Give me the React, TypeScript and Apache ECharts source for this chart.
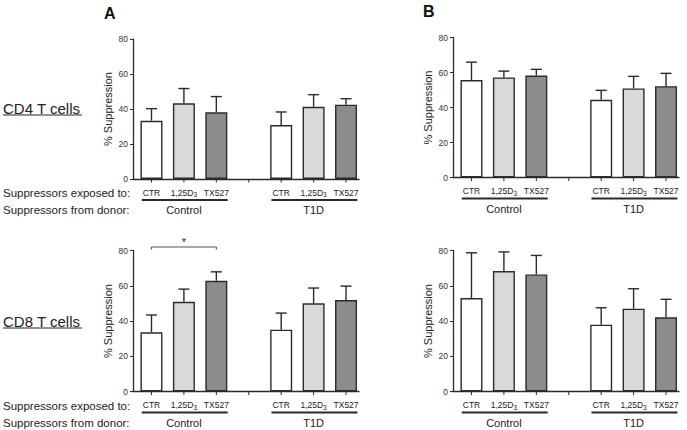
import React, { useEffect, useRef } from "react";
import * as echarts from "echarts";

// ---- data ----
const treatments = ["CTR", "1,25D3", "TX527"];
const donors = ["Control", "T1D"];
const panelLetters = ["A", "B"];
const cellTypes = ["CD4 T cells", "CD8 T cells"];
const rowLabels = ["Suppressors exposed to:", "Suppressors from donor:"];
const yAxisTitle = "% Suppression";
const yMin = 0;
const yMax = 80;
const yStep = 20;

// order: Control CTR, 1,25D3, TX527, T1D CTR, 1,25D3, TX527
const cd4A_mean = [33.3, 43.3, 38.1, 30.8, 41.3, 42.5];
const cd4A_sem = [6.9, 8.4, 9.0, 7.5, 6.9, 3.4];
const cd8A_mean = [33.6, 50.9, 62.8, 35.1, 50.0, 51.9];
const cd8A_sem = [9.8, 7.2, 5.1, 9.4, 8.7, 7.9];
const cd4B_mean = [55.7, 57.2, 58.3, 44.4, 50.9, 52.2];
const cd4B_sem = [10.2, 3.6, 3.5, 5.4, 6.9, 7.3];
const cd8B_mean = [53.0, 68.3, 66.4, 37.9, 47.0, 42.1];
const cd8B_sem = [25.7, 10.9, 10.8, 9.6, 11.3, 10.2];

// significance bracket in panel A / CD8: Control CTR vs Control TX527
const sigFrom = 0;
const sigTo = 2;
const sigLevel = 82;
const sigText = "*";

// ---- styling ----
const FONT = "'Liberation Sans', Arial, Helvetica, sans-serif";
const fillColors = ["#ffffff", "#d9d9d9", "#8c8c8c"];
const LINE = "#2b2b2b";
const TEXT = "#222222";

const pos = (k: number) => Math.floor(k / 3) * 4 + (k % 3);

const panels = [
  { mean: cd4A_mean, sem: cd4A_sem, grid: { left: 133, top: 39, width: 226, height: 140 }, sig: false },
  { mean: cd4B_mean, sem: cd4B_sem, grid: { left: 453, top: 37.5, width: 226, height: 140 }, sig: false },
  { mean: cd8A_mean, sem: cd8A_sem, grid: { left: 133, top: 250.5, width: 226, height: 141 }, sig: true },
  { mean: cd8B_mean, sem: cd8B_sem, grid: { left: 453, top: 250.5, width: 226, height: 141 }, sig: false },
];

const richLabel = (t: string) => (/D3$/.test(t) ? `{n|${t.slice(0, -1)}}{s|${t.slice(-1)}}` : `{n|${t}}`);

function buildOption() {
  const grids: any[] = [];
  const xAxes: any[] = [];
  const yAxes: any[] = [];
  const series: any[] = [];

  panels.forEach((p, i) => {
    grids.push({ ...p.grid, containLabel: false });
    xAxes.push({
      type: "value",
      gridIndex: i,
      min: -0.57,
      max: 6.4,
      axisLine: { show: true, onZero: false, lineStyle: { color: LINE, width: 1.3 } },
      axisTick: { show: false },
      axisLabel: { show: false },
      splitLine: { show: false },
    });
    yAxes.push({
      type: "value",
      gridIndex: i,
      min: yMin,
      max: yMax,
      interval: yStep,
      name: yAxisTitle,
      nameLocation: "middle",
      nameGap: 20,
      nameTextStyle: { fontSize: 11, color: TEXT, fontFamily: FONT },
      axisLine: { show: true, onZero: false, lineStyle: { color: LINE, width: 1.3 } },
      axisTick: { show: true, length: 3, lineStyle: { color: LINE, width: 1 } },
      axisLabel: { fontSize: 8.5, color: "#333", fontFamily: FONT, margin: 5 },
      splitLine: { show: false },
    });

    series.push({
      type: "bar",
      xAxisIndex: i,
      yAxisIndex: i,
      barWidth: 22,
      silent: true,
      itemStyle: { borderColor: LINE, borderWidth: 1.4 },
      data: p.mean.map((v, k) => ({ value: [pos(k), v], itemStyle: { color: fillColors[k % 3] } })),
    });

    series.push({
      type: "custom",
      xAxisIndex: i,
      yAxisIndex: i,
      silent: true,
      z: 3,
      data: p.mean.map((v, k) => [pos(k), v, v + p.sem[k]]),
      renderItem: (_params: any, api: any) => {
        const b = api.coord([api.value(0), api.value(1)]);
        const t = api.coord([api.value(0), api.value(2)]);
        const st = { stroke: LINE, lineWidth: 1.4 };
        return {
          type: "group",
          children: [
            { type: "line", shape: { x1: b[0], y1: b[1], x2: t[0], y2: t[1] }, style: st },
            { type: "line", shape: { x1: t[0] - 5.5, y1: t[1], x2: t[0] + 5.5, y2: t[1] }, style: st },
          ],
        };
      },
    });

    // x ticks + treatment labels (index -1 = gap tick)
    const tickData: any[] = [];
    for (let x = 0; x <= 6; x++) {
      const k = x === 3 ? -1 : x < 3 ? x : x - 1;
      tickData.push([x, 0, k]);
    }
    series.push({
      type: "custom",
      xAxisIndex: i,
      yAxisIndex: i,
      silent: true,
      data: tickData,
      renderItem: (_params: any, api: any) => {
        const c = api.coord([api.value(0), 0]);
        const k = api.value(2);
        const children: any[] = [
          { type: "line", shape: { x1: c[0], y1: c[1], x2: c[0], y2: c[1] + 3.5 }, style: { stroke: LINE, lineWidth: 1 } },
        ];
        if (k >= 0) {
          children.push({
            type: "text",
            x: c[0],
            y: c[1] + 13.5,
            style: {
              text: richLabel(treatments[k % 3]),
              align: "center",
              verticalAlign: "middle",
              fill: TEXT,
              rich: {
                n: { fontSize: 8.5, fontFamily: FONT, fill: TEXT, lineHeight: 11 },
                s: { fontSize: 6.5, fontFamily: FONT, fill: TEXT, verticalAlign: "bottom", lineHeight: 11 },
              },
            },
          });
        }
        return { type: "group", children };
      },
    });

    // donor group lines + labels
    series.push({
      type: "custom",
      xAxisIndex: i,
      yAxisIndex: i,
      silent: true,
      data: donors.map((_d, g) => [pos(g * 3), 0, pos(g * 3 + 2), g]),
      renderItem: (_params: any, api: any) => {
        const a = api.coord([api.value(0) - 0.3, 0]);
        const b = api.coord([api.value(2) + 0.35, 0]);
        const m = api.coord([(api.value(0) + api.value(2)) / 2, 0]);
        return {
          type: "group",
          children: [
            { type: "line", shape: { x1: a[0], y1: a[1] + 21, x2: b[0], y2: b[1] + 21 }, style: { stroke: LINE, lineWidth: 2 } },
            {
              type: "text",
              x: m[0],
              y: m[1] + 31,
              style: { text: donors[api.value(3)], align: "center", verticalAlign: "middle", fill: TEXT, fontSize: 11, fontFamily: FONT },
            },
          ],
        };
      },
    });

    if (p.sig) {
      series.push({
        type: "custom",
        xAxisIndex: i,
        yAxisIndex: i,
        silent: true,
        data: [[sigFrom, sigLevel, sigTo]],
        renderItem: (_params: any, api: any) => {
          const a = api.coord([api.value(0), api.value(1)]);
          const b = api.coord([api.value(2), api.value(1)]);
          const st = { stroke: "#555", lineWidth: 1.2 };
          return {
            type: "group",
            children: [
              { type: "line", shape: { x1: a[0], y1: a[1], x2: b[0], y2: b[1] }, style: st },
              { type: "line", shape: { x1: a[0], y1: a[1], x2: a[0], y2: a[1] + 2.5 }, style: st },
              { type: "line", shape: { x1: b[0], y1: b[1], x2: b[0], y2: b[1] + 2.5 }, style: st },
              {
                type: "text",
                x: (a[0] + b[0]) / 2,
                y: a[1] + 1,
                style: { text: sigText, align: "center", verticalAlign: "bottom", fill: TEXT, fontSize: 11, fontFamily: FONT },
              },
            ],
          };
        },
      });
    }
  });

  const graphic: any[] = [];
  // panel letters
  graphic.push({ type: "text", x: 104, y: 13, style: { text: panelLetters[0], font: `bold 16px ${FONT}`, fill: "#111", verticalAlign: "middle" } });
  graphic.push({ type: "text", x: 423, y: 11, style: { text: panelLetters[1], font: `bold 16px ${FONT}`, fill: "#111", verticalAlign: "middle" } });
  // cell type labels (underlined)
  const rowCenters = [108, 321];
  cellTypes.forEach((c, r) => {
    graphic.push({ type: "text", x: 3, y: rowCenters[r], style: { text: c, font: `15px ${FONT}`, fill: TEXT, verticalAlign: "middle" } });
    graphic.push({ type: "line", shape: { x1: 3, y1: rowCenters[r] + 7, x2: 82, y2: rowCenters[r] + 7 }, style: { stroke: TEXT, lineWidth: 1 } });
  });
  // row labels
  const rowLabelY = [[192.5, 210], [405.5, 422.5]];
  rowLabelY.forEach((ys) => {
    ys.forEach((y, j) => {
      graphic.push({ type: "text", x: 3, y, style: { text: rowLabels[j], font: `11.5px ${FONT}`, fill: TEXT, verticalAlign: "middle" } });
    });
  });

  return {
    animation: false,
    backgroundColor: "#ffffff",
    grid: grids,
    xAxis: xAxes,
    yAxis: yAxes,
    series,
    graphic,
  };
}

export default function App() {
  const ref = useRef<HTMLDivElement>(null);
  useEffect(() => {
    if (!ref.current) return;
    const chart = echarts.init(ref.current, undefined, { renderer: "svg" });
    chart.setOption(buildOption() as any);
    return () => chart.dispose();
  }, []);
  return (
    <div
      ref={ref}
      style={{ position: "fixed", left: 0, top: 0, width: 687, height: 430, background: "#fff" }}
    />
  );
}
